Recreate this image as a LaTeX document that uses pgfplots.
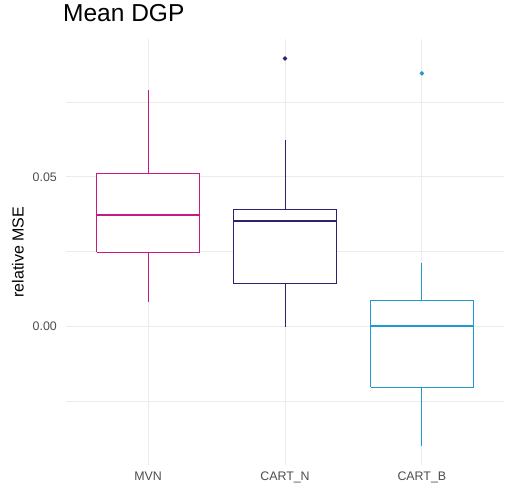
\documentclass[border=0pt]{standalone}
\usepackage{fontspec}
\setmainfont{Liberation Sans}
\usepackage{pgfplots}
\pgfplotsset{compat=1.18}
\definecolor{cMVN}{HTML}{C51A82}
\definecolor{cCN}{HTML}{2E2270}
\definecolor{cCB}{HTML}{1E9BCC}
\definecolor{gridc}{HTML}{EBEBEB}
\definecolor{tickc}{HTML}{4D4D4D}
\begin{document}
\begin{tikzpicture}
\useasboundingbox (-66bp,-21bp) rectangle (439bp,465bp);
\begin{axis}[
  at={(0,0)}, anchor=south west,
  scale only axis, width=438bp, height=426bp,
  xmin=0.4, xmax=3.6, ymin=-0.0464, ymax=0.0961,
  axis line style={draw=none},
  scaled y ticks=false,
  xtick={1,2,3}, xticklabels={MVN,CART\_N,CART\_B},
  ytick={0,0.05}, yticklabels={0.00,0.05},
  minor ytick={-0.025,0.025,0.075},
  major tick length=0pt, minor tick length=0pt,
  xmajorgrids, ymajorgrids, yminorgrids,
  major grid style={draw=gridc, line width=0.9bp},
  minor grid style={draw=gridc, line width=0.5bp},
  tick label style={font=\fontsize{12.4bp}{15bp}\selectfont, text=tickc},
  yticklabel style={anchor=east, inner sep=0pt, xshift=-9bp},
  xticklabel style={anchor=north, inner sep=0pt, yshift=-7bp},
  every axis plot/.append style={line width=0.8bp},
  title={Mean DGP},
  title style={at={(0,1)}, anchor=base west, inner sep=0pt, xshift=-3bp, yshift=12bp, font=\fontsize{24.5bp}{29bp}\selectfont},
]
% MVN
\addplot[cMVN] coordinates {(1,0.0512) (1,0.079)};
\addplot[cMVN] coordinates {(1,0.0248) (1,0.008)};
\addplot[cMVN, fill=white, line join=miter] coordinates {(0.625,0.0248) (1.375,0.0248) (1.375,0.0512) (0.625,0.0512) (0.625,0.0248)};
\addplot[cMVN, line width=1.8bp] coordinates {(0.625,0.0373) (1.375,0.0373)};
% CART_N
\addplot[cCN] coordinates {(2,0.039) (2,0.0623)};
\addplot[cCN] coordinates {(2,0.0143) (2,-0.0004)};
\addplot[cCN, fill=white, line join=miter] coordinates {(1.625,0.0143) (2.375,0.0143) (2.375,0.039) (1.625,0.039) (1.625,0.0143)};
\addplot[cCN, line width=1.8bp] coordinates {(1.625,0.0353) (2.375,0.0353)};
\addplot[only marks, mark=*, mark size=1.8bp, color=cCN] coordinates {(2,0.0896)};
% CART_B
\addplot[cCB] coordinates {(3,0.0088) (3,0.0212)};
\addplot[cCB] coordinates {(3,-0.0203) (3,-0.0399)};
\addplot[cCB, fill=white, line join=miter] coordinates {(2.625,-0.0203) (3.375,-0.0203) (3.375,0.0088) (2.625,0.0088) (2.625,-0.0203)};
\addplot[cCB, line width=1.8bp] coordinates {(2.625,0.0001) (3.375,0.0001)};
\addplot[only marks, mark=*, mark size=1.8bp, color=cCB] coordinates {(3,0.0846)};
\end{axis}
\node[rotate=90, anchor=center, font=\fontsize{16bp}{19bp}\selectfont] at (-48bp,213bp) {relative MSE};
\end{tikzpicture}
\end{document}
